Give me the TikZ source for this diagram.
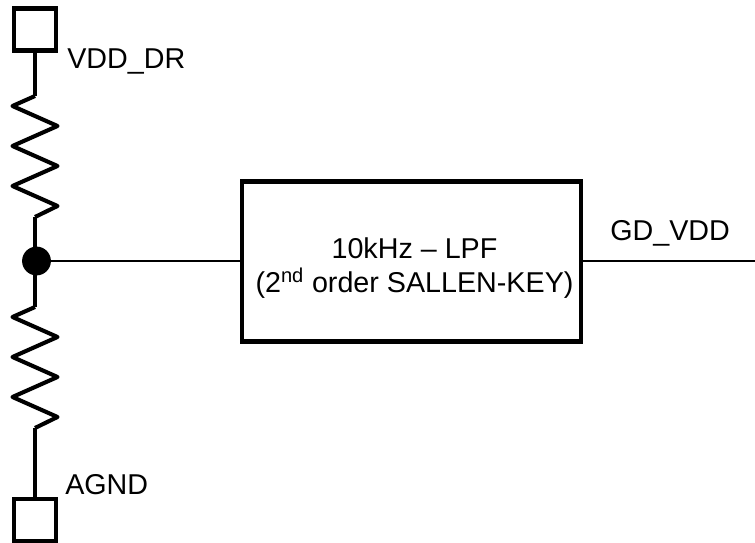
\documentclass[tikz,border=0pt]{standalone}
\usepackage{fontspec}
\setmainfont{Liberation Sans}
\usetikzlibrary{positioning}
\tikzset{
    thin wire/.style={line width=1.5pt},
    thick wire/.style={line width=2.9pt, line join=round},
    pad/.style={draw, line width=3.2pt, minimum size=1.04cm, inner sep=0},
    filter/.style={draw, line width=3.4pt, minimum width=8.47cm, minimum height=4.01cm, inner sep=0},
    filter text/.style={align=center, inner sep=0, font=\fontsize{20.4}{24.8}\selectfont},
    junction/.style={circle, fill, minimum size=0.72cm, inner sep=0},
    label/.style={inner sep=0, font=\fontsize{20.4}{24}\selectfont}
}

\begin{document}
\begin{tikzpicture}[x=0.025cm, y=-0.025cm]
    \useasboundingbox (0,0) rectangle (755,543);

    % pads, junction and filter block
    \node[pad] (padvdd) at (35,29.5) {};
    \node[pad] (padgnd) at (35,520) {};
    \node[junction] (mid) at (36.5,261) {};
    \node[filter] (lpf) at (411.5,261.5) {};
    \node[filter text, anchor=base] (lpftext) at (414.5,293) {10kHz -- LPF\\(2\textsuperscript{nd} order SALLEN-KEY)};

    % resistor ends
    \coordinate (rtopin) at (35,96);
    \coordinate (rtopout) at (35,217);
    \coordinate (rbotin) at (35,307);
    \coordinate (rbotout) at (35,428);
    \coordinate (gdout) at (755,261);

    \foreach \a/\b in {rtopin/rtopout, rbotin/rbotout}
    {
        \draw[thick wire] (\a) -- ++(-22.5,10) -- ++(45,20) -- ++(-45,20) -- ++(45,20)
            -- ++(-45,20) -- ++(45,20) -- (\b);
    }

    \draw[thick wire] (padvdd) -- (rtopin);
    \draw[thick wire] (rtopout) -- (rtopout |- mid);
    \draw[thick wire] (rbotin |- mid) -- (rbotin);
    \draw[thick wire] (rbotout) -- (padgnd);

    \draw[thin wire] (mid) -- (lpf.west |- mid);
    \draw[thin wire] (lpf.east |- gdout) -- (gdout);

    \node[label, anchor=base west] (vddlabel) at (67,69) {VDD\_DR};
    \node[label, anchor=base west] (gndlabel) at (65,494) {AGND};
    \node[label, anchor=base west] (gdlabel) at (610,240.5) {GD\_VDD};
\end{tikzpicture}
\end{document}
